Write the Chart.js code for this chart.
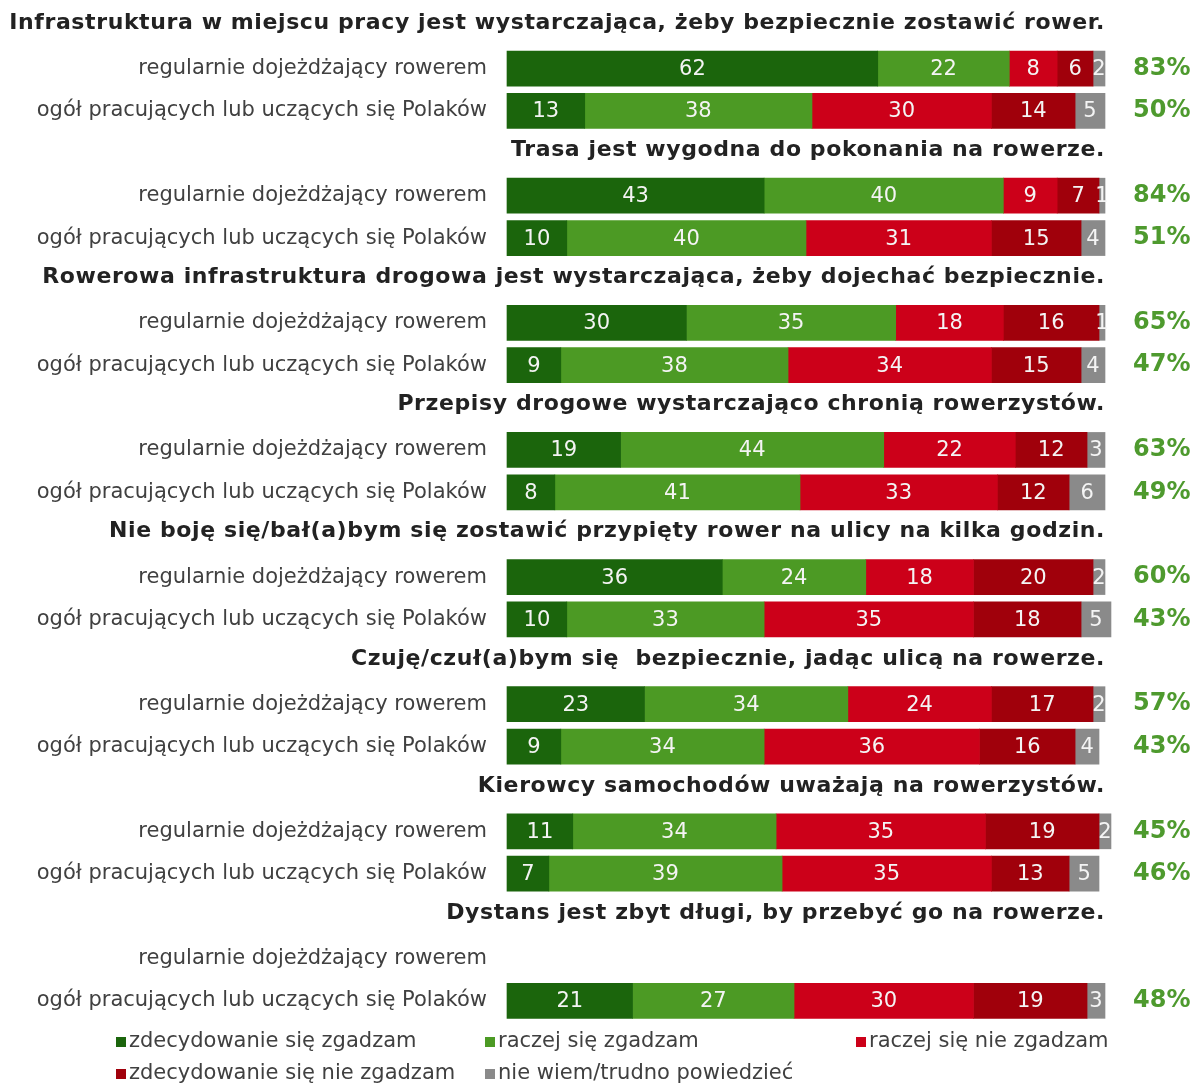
<!DOCTYPE html>
<html lang="pl">
<head>
<meta charset="utf-8">
<title>Postrzeganie warunków do dojazdów rowerem</title>
<script src="https://cdn.jsdelivr.net/npm/chart.js@4/dist/chart.umd.min.js"></script>
<style>
  html, body { margin: 0; padding: 0; background: #ffffff; }
  #wrap { width: 1202px; height: 1084px; position: relative; }
</style>
</head>
<body>
<div id="wrap"><canvas id="chart"></canvas></div>
<script>
// Statements (section headers) and the two respondent groups under each one
const statements = [
    'Infrastruktura w miejscu pracy jest wystarczająca, żeby bezpiecznie zostawić rower.',
    'Trasa jest wygodna do pokonania na rowerze.',
    'Rowerowa infrastruktura drogowa jest wystarczająca, żeby dojechać bezpiecznie.',
    'Przepisy drogowe wystarczająco chronią rowerzystów.',
    'Nie boję się/bał(a)bym się zostawić przypięty rower na ulicy na kilka godzin.',
    'Czuję/czuł(a)bym się  bezpiecznie, jadąc ulicą na rowerze.',
    'Kierowcy samochodów uważają na rowerzystów.',
    'Dystans jest zbyt długi, by przebyć go na rowerze.',
];
const groups = ['regularnie dojeżdżający rowerem', 'ogół pracujących lub uczących się Polaków'];

// Answers in %, two bars per statement (cyclists, all Poles)
const strongAgree    = [62, 13, 43, 10, 30,  9, 19,  8, 36, 10, 23,  9, 11,  7, null, 21];
const agree          = [22, 38, 40, 40, 35, 38, 44, 41, 24, 33, 34, 34, 34, 39, null, 27];
const disagree       = [ 8, 30,  9, 31, 18, 34, 22, 33, 18, 35, 24, 36, 35, 35, null, 30];
const strongDisagree = [ 6, 14,  7, 15, 16, 15, 12, 12, 20, 18, 17, 16, 19, 13, null, 19];
const dontKnow       = [ 2,  5,  1,  4,  1,  4,  3,  6,  2,  5,  2,  4,  2,  5, null,  3];
const agreeTotals    = [83, 50, 84, 51, 65, 47, 63, 49, 60, 43, 57, 43, 45, 46, null, 48];

const seriesNames = [
    'zdecydowanie się zgadzam',
    'raczej się zgadzam',
    'raczej się nie zgadzam',
    'zdecydowanie się nie zgadzam',
    'nie wiem/trudno powiedzieć',
];
const seriesColors = ['#1b650c', '#4c9a24', '#cc0019', '#a0000b', '#8a8a8a'];

// Flatten into rows: header row, then one row per group
const rowLabels = [];
const rowTitles = [];
const rowTotals = [];
const rowIndex = [];
statements.forEach((s, i) => {
    rowLabels.push('');
    rowTitles.push(s);
    rowTotals.push('');
    rowIndex.push(-1);
    groups.forEach((g, j) => {
        const k = i * 2 + j;
        rowLabels.push(g);
        rowTitles.push(null);
        rowTotals.push(agreeTotals[k] == null ? '' : agreeTotals[k] + '%');
        rowIndex.push(k);
    });
});

const toRows = (values) => rowIndex.map((k) => (k < 0 ? null : values[k]));
const seriesValues = [strongAgree, agree, disagree, strongDisagree, dontKnow];

const FONT = '"DejaVu Sans", Verdana, sans-serif';

// Numbers centred inside each bar segment
const segmentLabels = {
    id: 'segmentLabels',
    afterDatasetsDraw(chart) {
        const ctx = chart.ctx;
        ctx.save();
        ctx.font = '21px ' + FONT;
        ctx.fillStyle = '#f4f4f4';
        ctx.textAlign = 'center';
        ctx.textBaseline = 'middle';
        chart.data.datasets.forEach((ds, di) => {
            const meta = chart.getDatasetMeta(di);
            meta.data.forEach((bar, i) => {
                const v = ds.data[i];
                if (v == null) return;
                const { x, y } = bar.getCenterPoint();
                ctx.fillText(String(v), x, y + 1);
            });
        });
        ctx.restore();
    },
};

// Bold statement headers, right-aligned to the end of the bars;
// a header too long for that is spread over the full width instead
const sectionTitles = {
    id: 'sectionTitles',
    afterDraw(chart) {
        const ctx = chart.ctx;
        const yScale = chart.scales.y;
        const right = chart.chartArea.right;
        const left = 8;
        const fullRight = chart.width - 12;
        ctx.save();
        ctx.font = 'bold 22px ' + FONT;
        ctx.fillStyle = '#222222';
        ctx.textBaseline = 'middle';
        ctx.textAlign = 'left';
        rowTitles.forEach((t, i) => {
            if (!t) return;
            const y = Math.max(18, yScale.getPixelForValue(i) - 3);
            ctx.letterSpacing = '0.6px';
            const w = ctx.measureText(t).width;
            if (right - w >= left) {
                ctx.fillText(t, right - w, y);
                return;
            }
            ctx.letterSpacing = '0px';
            const bare = ctx.measureText(t).width;
            const gap = (fullRight - left - bare) / t.length;
            ctx.letterSpacing = gap.toFixed(2) + 'px';
            ctx.fillText(t, left, y);
        });
        ctx.restore();
    },
};

// Two-row legend in fixed columns under the plot
const gridLegend = {
    id: 'gridLegend',
    afterDraw(chart) {
        const ctx = chart.ctx;
        const cols = [116, 485, 856];
        const rows = [1042, 1074];
        ctx.save();
        ctx.font = '21px ' + FONT;
        ctx.textBaseline = 'middle';
        ctx.textAlign = 'left';
        chart.data.datasets.forEach((ds, i) => {
            const x = cols[i % 3];
            const y = rows[Math.floor(i / 3)];
            ctx.fillStyle = ds.backgroundColor;
            ctx.fillRect(x, y - 5, 10, 10);
            ctx.fillStyle = '#404040';
            ctx.fillText(ds.label, x + 13, y);
        });
        ctx.restore();
    },
};

// keep the category axes from reserving extra room above/below the rows
function fixAxis(width) {
    return (scale) => {
        scale.width = width;
        scale.paddingTop = 0;
        scale.paddingBottom = 0;
    };
}

new Chart(document.getElementById('chart'), {
    type: 'bar',
    data: {
        labels: rowLabels,
        datasets: seriesNames.map((name, i) => ({
            label: name,
            data: toRows(seriesValues[i]),
            backgroundColor: seriesColors[i],
            borderWidth: 0,
            barThickness: 35,
            clip: false,
        })),
    },
    options: {
        indexAxis: 'y',
        responsive: true,
        maintainAspectRatio: false,
        animation: false,
        layout: { padding: { top: 5, bottom: 62, left: 0, right: 0 } },
        plugins: {
            legend: { display: false },
            tooltip: { enabled: false },
        },
        scales: {
            x: {
                stacked: true,
                min: 0,
                max: 100,
                display: false,
            },
            y: {
                stacked: true,
                offset: true,
                grid: { display: false, drawTicks: false },
                border: { display: false },
                ticks: {
                    autoSkip: false,
                    padding: 20,
                    color: '#404040',
                    font: { family: FONT, size: 21 },
                },
                afterFit: fixAxis(507),
            },
            y2: {
                type: 'category',
                position: 'right',
                labels: rowTotals,
                offset: true,
                grid: { display: false, drawTicks: false },
                border: { display: false },
                ticks: {
                    autoSkip: false,
                    padding: 28,
                    color: '#4e9a2e',
                    font: { family: FONT, size: 24, weight: 'bold' },
                },
                afterFit: fixAxis(97),
            },
        },
    },
    plugins: [segmentLabels, sectionTitles, gridLegend],
});
</script>
</body>
</html>
